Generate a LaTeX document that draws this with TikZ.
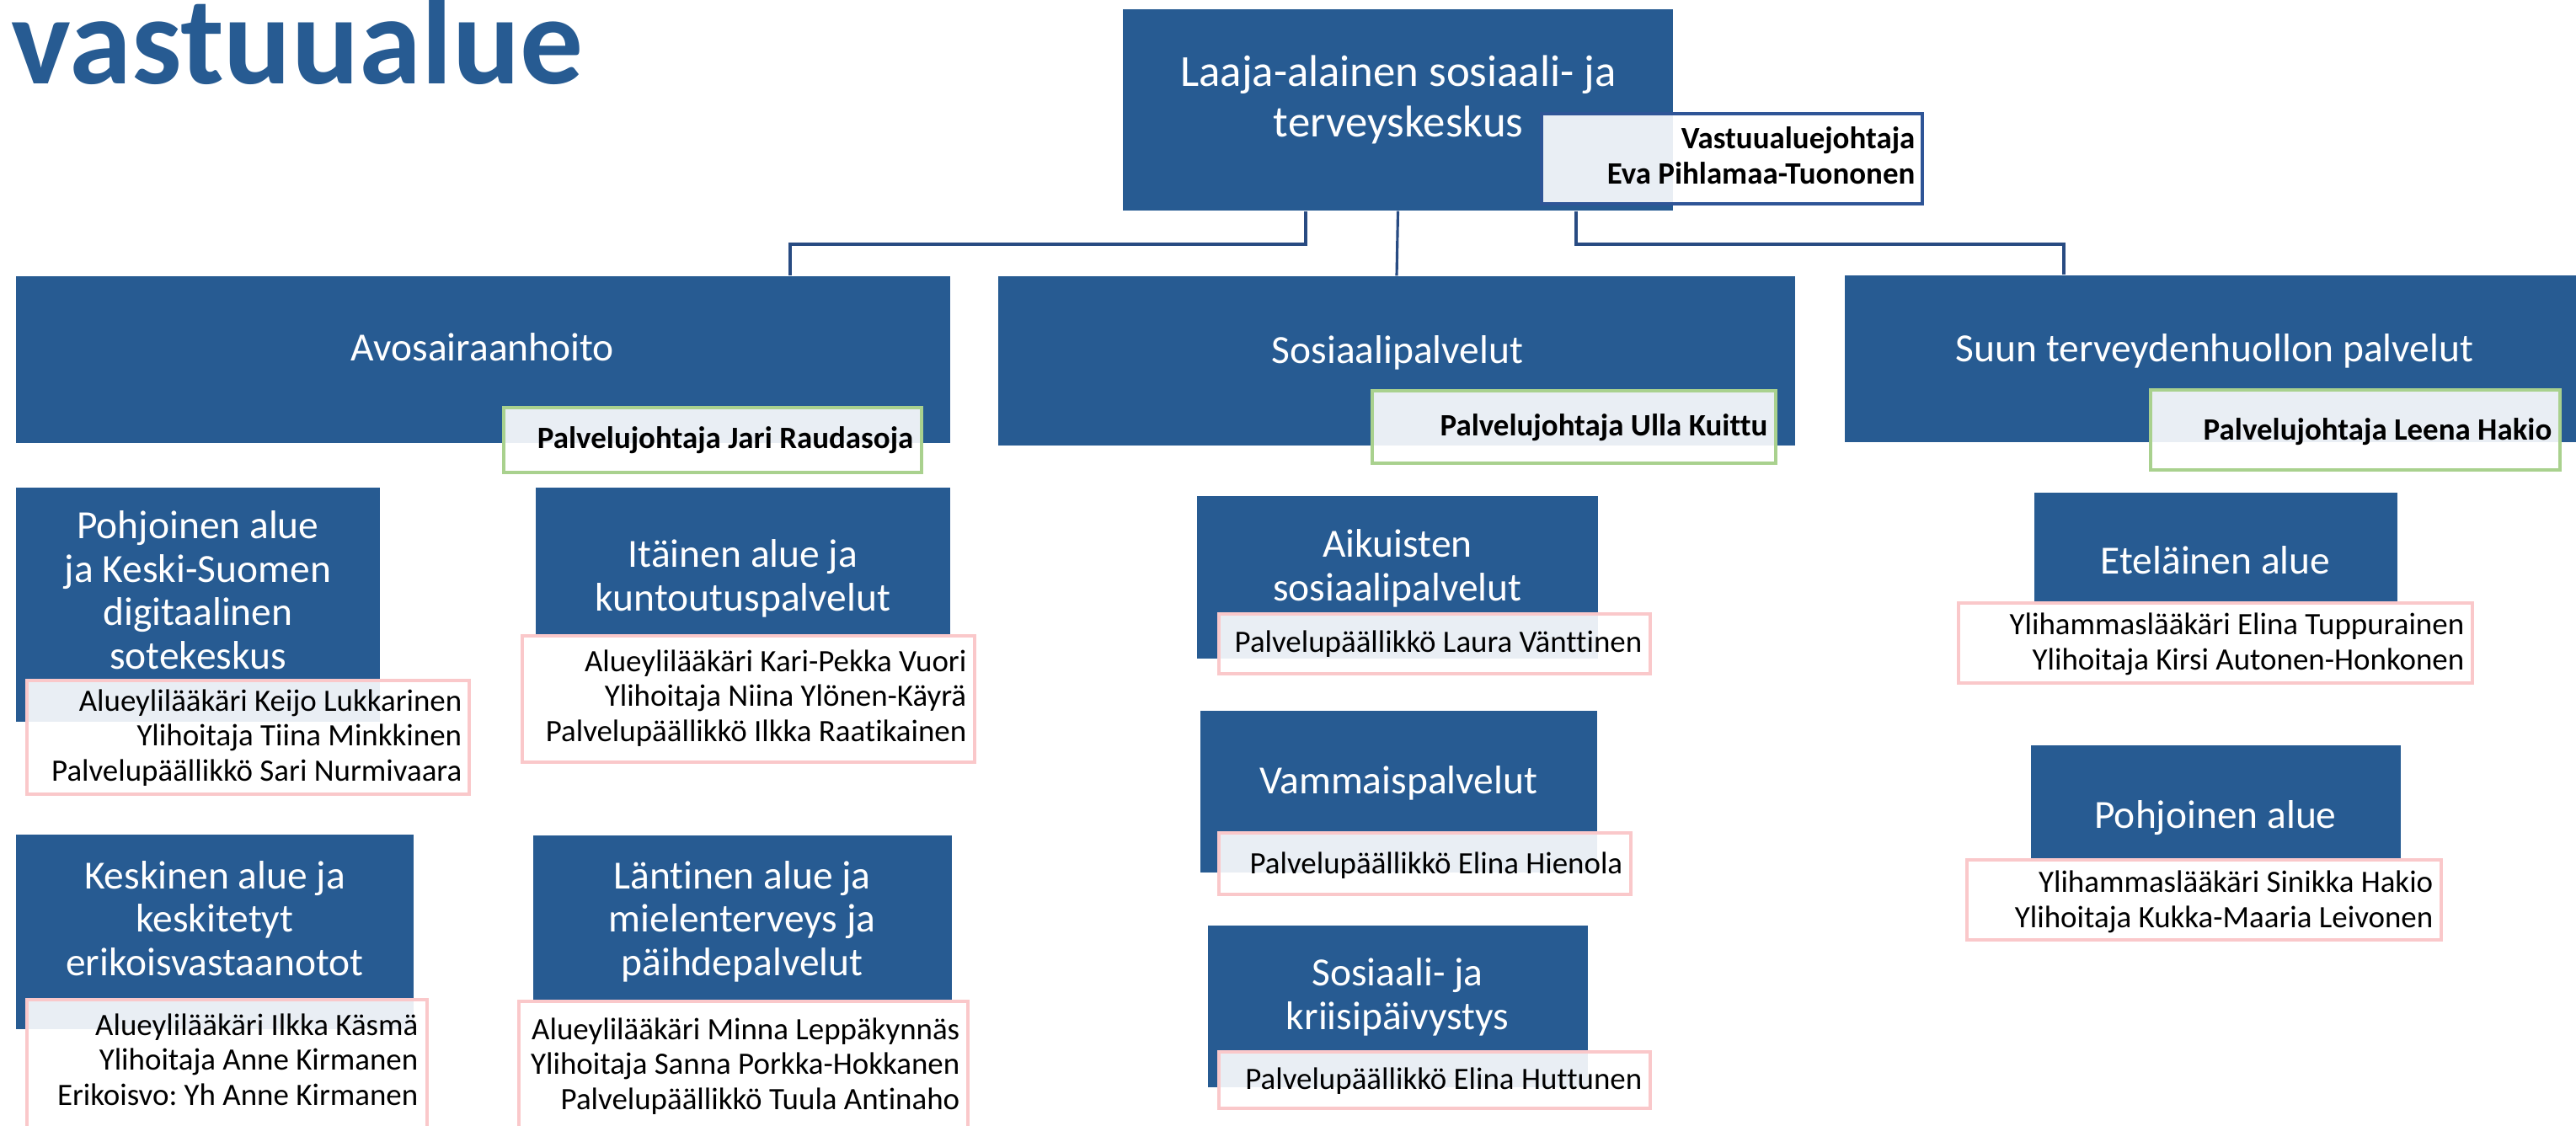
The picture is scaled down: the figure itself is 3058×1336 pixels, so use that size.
\documentclass[tikz,border=0pt]{standalone}
\usepackage{fontspec}
\setmainfont{Carlito}[Ligatures=CommonOff]
\frenchspacing
\usetikzlibrary{fit}
\definecolor{unitblue}{RGB}{39,91,146}
\definecolor{linkblue}{RGB}{40,75,130}
\definecolor{headblue}{RGB}{47,85,151}
\definecolor{namepink}{RGB}{250,200,202}
\definecolor{namegreen}{RGB}{169,209,142}
\begin{document}
\begin{tikzpicture}[x=0.01cm, y=-0.01cm,
  unit/.style={fill=unitblue, inner sep=0pt},
  names/.style={draw=namepink, line width=0.9pt, fill=white, fill opacity=0.9, text opacity=1, inner sep=0pt},
  lead/.style={names, draw=namegreen},
  head/.style={text=white, align=center, anchor=base, inner sep=0pt, font=\fontsize{13.5}{14.6}\selectfont},
  who/.style={anchor=base east, align=right, inner sep=0pt, font=\fontsize{10.5}{11.7}\selectfont},
  boss/.style={who, font=\bfseries\fontsize{10.5}{11.7}\selectfont},
  link/.style={draw=linkblue, line width=0.9pt}]
\useasboundingbox (0,0) rectangle (3058,1336);
\clip (0,0) rectangle (3058,1336);

% otsikko
\node[anchor=base west, inner sep=0pt, text=unitblue, font=\bfseries\fontsize{42.5}{43}\selectfont] (title) at (13,99) {vastuualue};

% vastuualue ja palvelut
\node[unit, fit={(1333,11) (1986,250)}] (top) {};
\node[head, font=\fontsize{15}{16.8}\selectfont] (top-t) at (1660,162) {Laaja-alainen sosiaali- ja\\terveyskeskus};
\node[names, draw=headblue, fit={(1830,135) (2282,242)}] (top-n) {};
\node[boss] (top-w) at (2274,218) {Vastuualuejohtaja\\Eva Pihlamaa-Tuononen};

\node[unit, fit={(19,328) (1128,526)}] (avo) {};
\node[unit, fit={(1185,328) (2131,529)}] (sos) {};
\node[unit, fit={(2190,327) (3070,525)}] (suun) {};

\coordinate (avo-in) at (938,290);
\coordinate (suun-in) at (2450,290);
\draw[link] (top.south -| 1550,0) |- (avo-in) -- (avo.north -| avo-in);
\draw[link] (top.south) -- (sos.north);
\draw[link] (top.south -| 1871,0) |- (suun-in) -- (suun.north -| suun-in);

\node[head] (avo-t) at (573,428) {Avosairaanhoito};
\node[head] (sos-t) at (1659,431) {Sosiaalipalvelut};
\node[head] (suun-t) at (2629,429) {Suun terveydenhuollon palvelut};

\node[lead, fit={(598,484) (1094,561)}] (avo-n) {};
\node[boss] (avo-w) at (1085,532) {Palvelujohtaja Jari Raudasoja};
\node[lead, fit={(1629,464) (2108,550)}] (sos-n) {};
\node[boss] (sos-w) at (2099,517) {Palvelujohtaja Ulla Kuittu};
\node[lead, fit={(2553,463) (3039,558)}] (suun-n) {};
\node[boss] (suun-w) at (3030,522) {Palvelujohtaja Leena Hakio};

% avosairaanhoidon alueet
\node[unit, fit={(19,579) (451,857)}] (pohj) {};
\node[head] (pohj-t) at (235,794) {Pohjoinen alue\\ja Keski-Suomen\\digitaalinen\\sotekeskus};
\node[names, fit={(32,808) (557,943)}] (pohj-n) {};
\node[who] (pohj-w) at (549,927) {Alueylilääkäri Keijo Lukkarinen\\Ylihoitaja Tiina Minkkinen\\Palvelupäällikkö Sari Nurmivaara};

\node[unit, fit={(636,579) (1128,754)}] (ita) {};
\node[head] (ita-t) at (882,725) {Itäinen alue ja\\kuntoutuspalvelut};
\node[names, fit={(620,755) (1157,905)}] (ita-n) {};
\node[who] (ita-w) at (1148,880) {Alueylilääkäri Kari-Pekka Vuori\\Ylihoitaja Niina Ylönen-Käyrä\\Palvelupäällikkö Ilkka Raatikainen};

\node[unit, fit={(19,991) (491,1222)}] (kesk) {};
\node[head] (kesk-t) at (255,1158) {Keskinen alue ja\\keskitetyt\\erikoisvastaanotot};
\node[names, fit={(32,1187) (507,1360)}] (kesk-n) {};
\node[who] (kesk-w) at (497,1312) {Alueylilääkäri Ilkka Käsmä\\Ylihoitaja Anne Kirmanen\\Erikoisvo: Yh Anne Kirmanen};

\node[unit, fit={(633,992) (1130,1188)}] (lant) {};
\node[head] (lant-t) at (881,1158) {Läntinen alue ja\\mielenterveys ja\\päihdepalvelut};
\node[names, fit={(616,1189) (1149,1360)}] (lant-n) {};
\node[who] (lant-w) at (1140,1317) {Alueylilääkäri Minna Leppäkynnäs\\Ylihoitaja Sanna Porkka-Hokkanen\\Palvelupäällikkö Tuula Antinaho};

% sosiaalipalvelut
\node[unit, fit={(1421,589) (1897,782)}] (aik) {};
\node[head] (aik-t) at (1659,713) {Aikuisten\\sosiaalipalvelut};
\node[names, fit={(1447,729) (1959,800)}] (aik-n) {};
\node[who] (aik-w) at (1950,774) {Palvelupäällikkö Laura Vänttinen};

\node[unit, fit={(1425,844) (1896,1036)}] (vamm) {};
\node[head] (vamm-t) at (1660,942) {Vammaispalvelut};
\node[names, fit={(1447,989) (1936,1062)}] (vamm-n) {};
\node[who] (vamm-w) at (1927,1037) {Palvelupäällikkö Elina Hienola};

\node[unit, fit={(1434,1099) (1885,1291)}] (krii) {};
\node[head] (krii-t) at (1659,1222) {Sosiaali- ja\\kriisipäivystys};
\node[names, fit={(1447,1249) (1959,1316)}] (krii-n) {};
\node[who] (krii-w) at (1950,1293) {Palvelupäällikkö Elina Huttunen};

% suun terveydenhuolto
\node[unit, fit={(2415,585) (2846,715)}] (etel) {};
\node[head] (etel-t) at (2630,681) {Eteläinen alue};
\node[names, fit={(2325,716) (2935,811)}] (etel-n) {};
\node[who] (etel-w) at (2926,795) {Ylihammaslääkäri Elina Tuppurainen\\Ylihoitaja Kirsi Autonen-Honkonen};

\node[unit, fit={(2411,885) (2850,1020)}] (pohj2) {};
\node[head] (pohj2-t) at (2630,983) {Pohjoinen alue};
\node[names, fit={(2335,1021) (2898,1116)}] (pohj2-n) {};
\node[who] (pohj2-w) at (2889,1101) {Ylihammaslääkäri Sinikka Hakio\\Ylihoitaja Kukka-Maaria Leivonen};
\end{tikzpicture}
\end{document}
